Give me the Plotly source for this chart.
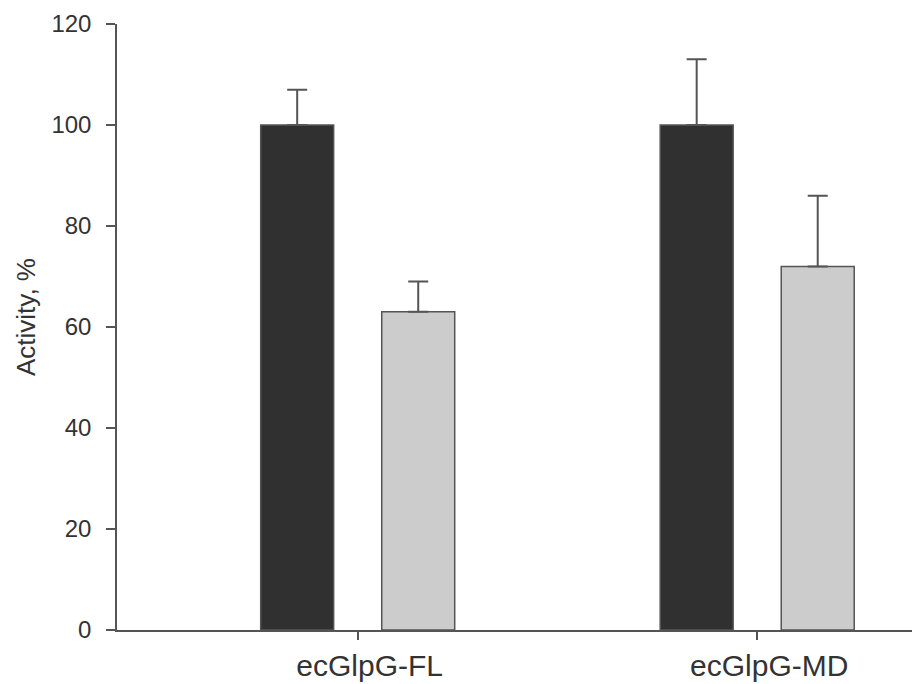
import plotly.graph_objects as go

categories = ["ecGlpG-FL", "ecGlpG-MD"]
series1_values = [100, 100]
series1_err = [7, 13]
series2_values = [63, 72]
series2_err = [6, 14]
y_ticks = [0, 20, 40, 60, 80, 100, 120]
y_title = "Activity, %"

line_col = "#555555"
fig = go.Figure()
fig.add_trace(go.Bar(
    x=categories, y=series1_values, marker=dict(color="#303030", line=dict(color=line_col, width=1.5)),
    error_y=dict(type="data", array=series1_err, symmetric=False, arrayminus=[0, 0],
                 color=line_col, thickness=2, width=10),
    showlegend=False))
fig.add_trace(go.Bar(
    x=categories, y=series2_values, marker=dict(color="#cccccc", line=dict(color=line_col, width=1.5)),
    error_y=dict(type="data", array=series2_err, symmetric=False, arrayminus=[0, 0],
                 color=line_col, thickness=2, width=10),
    showlegend=False))

fig.update_layout(
    width=912, height=676,
    margin=dict(l=109, r=0, t=16, b=54),
    plot_bgcolor="white", paper_bgcolor="white",
    barmode="group", bargap=0.394, bargroupgap=0.397,
    font=dict(family="Liberation Sans, Arial, sans-serif", color="#333333"),
    xaxis=dict(range=[-0.6025, 1.4075], showline=True, linecolor=line_col, linewidth=1.5,
               ticks="outside", ticklen=8, tickcolor=line_col, tickwidth=1.5,
               ticklabelshift=12,
               tickfont=dict(size=30), showgrid=False, zeroline=False, automargin=False),
    yaxis=dict(range=[0, 120], tickvals=y_ticks, showline=True, linecolor=line_col, linewidth=1.5,
               ticks="outside", ticklen=9, tickcolor=line_col, tickwidth=1.5,
               ticklabelstandoff=10,
               tickfont=dict(size=24), showgrid=False, zeroline=False, automargin=False),
    annotations=[dict(text=y_title, textangle=-90, xref="paper", yref="paper",
                      x=0, y=0.5165, xshift=-91, xanchor="center", yanchor="middle",
                      showarrow=False, font=dict(size=26, color="#333333"))],
)
fig.write_html("out.html")
